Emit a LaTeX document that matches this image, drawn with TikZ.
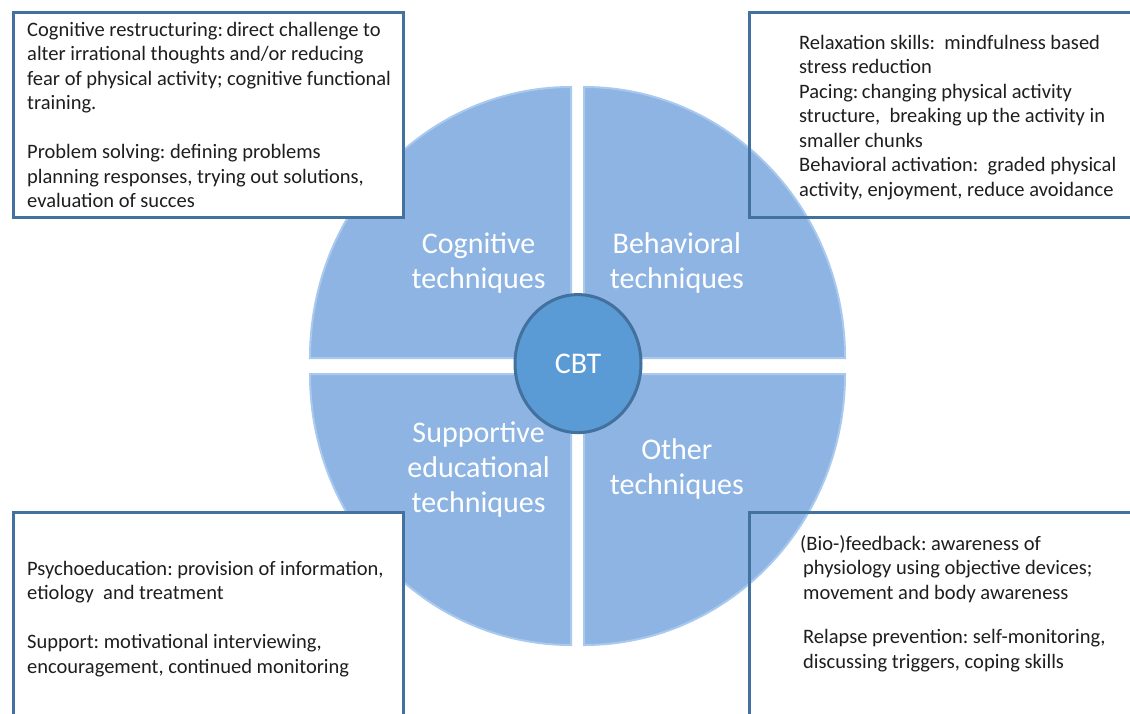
\documentclass[tikz,border=0pt]{standalone}
\usepackage{fontspec}
\setmainfont{Carlito}
\frenchspacing
\usetikzlibrary{shapes.geometric}
\definecolor{quad}{HTML}{8DB4E2}
\definecolor{quadedge}{HTML}{A9CAEE}
\definecolor{quadshade}{HTML}{7FA6D6}
\definecolor{cbtfill}{HTML}{5B9BD5}
\definecolor{cbtedge}{HTML}{41719C}
\definecolor{boxedge}{HTML}{4472A0}
\definecolor{txt}{HTML}{1E1E1E}
\newcommand{\vlines}[1]{\vtop{\baselineskip=24.5pt\lineskiplimit=-100pt\lineskip=0pt #1}}
\tikzset{
  quadrant/.style={fill=quad, draw=quadedge, line width=2pt},
  infobox/.style={draw=boxedge, line width=3pt},
  boxtxt/.style={inner sep=0pt, anchor=base west, text=txt, font=\fontsize{20.5}{24.5}\selectfont},
  qlabel/.style={inner sep=0pt, align=center, text=white, font=\fontsize{30}{35}\selectfont},
  cbt/.style={ellipse, fill=cbtfill, draw=cbtedge, line width=3pt, minimum width=126pt, minimum height=138pt, inner sep=0pt, text=white, font=\fontsize{30}{35}\selectfont}
}
\begin{document}
\begin{tikzpicture}[x=1pt,y=-1pt]
\clip (0,0) rectangle (1130,713);
\fill[white] (0,0) rectangle (1130,713);
% quadrants
\draw[quadrant] (571,358) -- (310,358) arc[start angle=180, end angle=90, x radius=261pt, y radius=271pt] -- cycle;
\draw[quadrant] (584,358) -- (584,87) arc[start angle=90, end angle=0, x radius=261pt, y radius=271pt] -- cycle;
\draw[quadrant] (571,374) -- (571,645) arc[start angle=270, end angle=180, x radius=261pt, y radius=271pt] -- cycle;
\draw[quadrant] (584,374) -- (845,374) arc[start angle=0, end angle=-90, x radius=261pt, y radius=271pt] -- cycle;
% centre
\node[cbt] (cbt) at (578,363.6) {CBT};
% quadrant labels
\node[qlabel] (cog) at (478.6,263) {Cognitive\\techniques};
\node[qlabel] (beh) at (676.8,263) {Behavioral\\techniques};
\node[qlabel] (sup) at (478.6,470) {Supportive\\educational\\techniques};
\node[qlabel] (oth) at (676.8,468.5) {Other\\techniques};
% boxes
\draw[infobox, fill=white] (13,12) rectangle (403,217);
\draw[infobox] (749,12) rectangle (1140,217);
\draw[infobox, fill=white] (13,512) rectangle (403,730);
\draw[infobox] (749,512) rectangle (1140,730);
% box texts
\node[boxtxt] (cogtxt) at (27,36) {\vlines{%
\hbox{Cognitive restructuring:\,direct challenge to}%
\hbox{alter irrational thoughts and/or reducing}%
\hbox{fear of physical activity; cognitive functional}%
\hbox{training.}%
\hbox{}%
\hbox{Problem solving: defining problems}%
\hbox{planning responses, trying out solutions,}%
\hbox{evaluation of succes}}};
\node[boxtxt] (behtxt) at (799,49) {\vlines{%
\hbox{Relaxation skills:~ mindfulness based}%
\hbox{stress reduction}%
\hbox{Pacing:\,changing physical activity}%
\hbox{structure,~ breaking up the activity in}%
\hbox{smaller chunks}%
\hbox{Behavioral activation:~ graded physical}%
\hbox{activity, enjoyment, reduce avoidance}}};
\node[boxtxt] (suptxt) at (27,575) {\vlines{%
\hbox{Psychoeducation: provision of information,}%
\hbox{etiology~ and treatment}%
\hbox{}%
\hbox{Support: motivational interviewing,}%
\hbox{encouragement, continued monitoring}}};
\node[boxtxt] (othtxtA) at (800,550) {\vlines{%
\hbox{(Bio-)feedback: awareness of}%
\hbox{\hspace{3pt}physiology using objective devices;}%
\hbox{\hspace{3pt}movement and body awareness}}};
\node[boxtxt] (othtxtB) at (803,643.5) {\vlines{%
\hbox{Relapse prevention: self-monitoring,}%
\hbox{discussing triggers, coping skills}}};
\end{tikzpicture}
\end{document}
